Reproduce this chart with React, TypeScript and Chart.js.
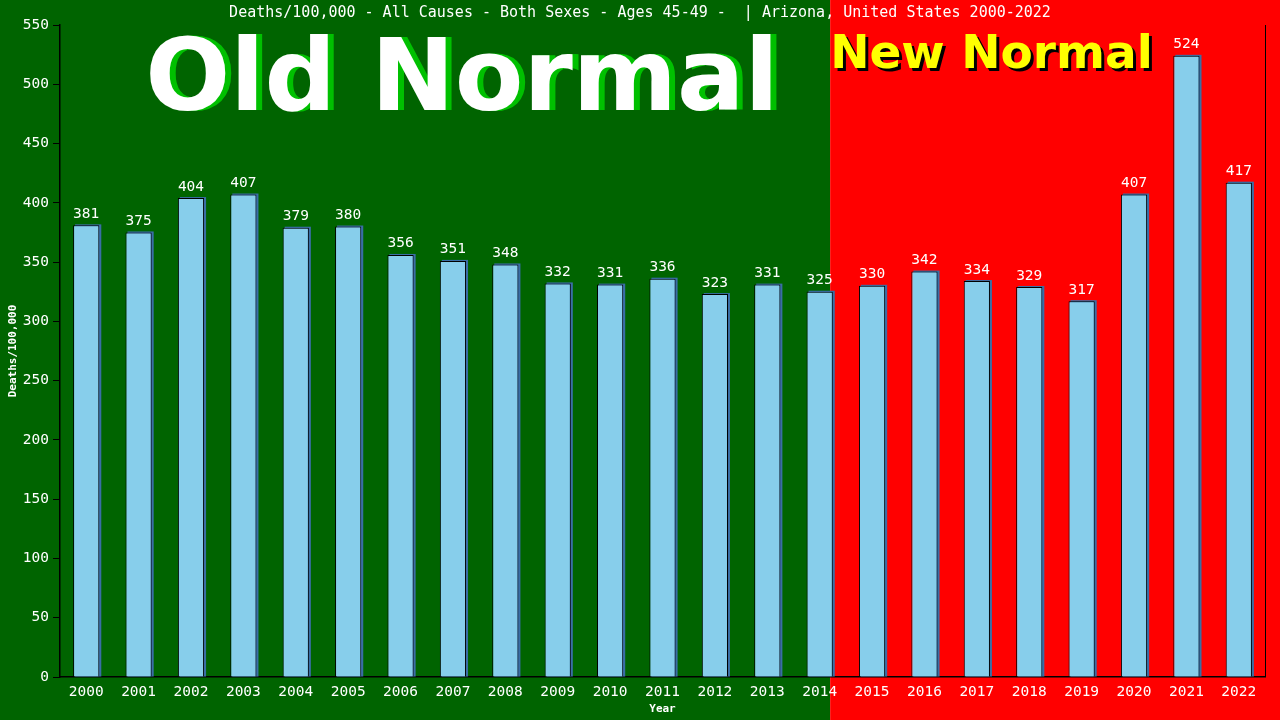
import React, { useEffect, useRef } from "react";
import { Chart, registerables } from "chart.js";

Chart.register(...registerables);

const years = ["2000","2001","2002","2003","2004","2005","2006","2007","2008","2009","2010","2011","2012","2013","2014","2015","2016","2017","2018","2019","2020","2021","2022"];
const deaths = [381,375,404,407,379,380,356,351,348,332,331,336,323,331,325,330,342,334,329,317,407,524,417];
const titleText = "Deaths/100,000 - All Causes - Both Sexes - Ages 45-49 -  | Arizona, United States 2000-2022";
const yTitle = "Deaths/100,000";
const xTitle = "Year";
const oldLabel = "Old Normal";
const newLabel = "New Normal";

const MONO = "'DejaVu Sans Mono', monospace";
const SANS = "'DejaVu Sans', sans-serif";

const decorPlugin = {
  id: "decor",
  beforeDraw(chart: any) {
    const { ctx, width, height, chartArea, scales } = chart;
    const xs = scales.x;
    const step = xs.getPixelForValue(1) - xs.getPixelForValue(0);
    const boundary = xs.getPixelForValue(14) + step * 0.2;
    ctx.save();
    ctx.fillStyle = "#006400";
    ctx.fillRect(0, 0, boundary, height);
    ctx.fillStyle = "#ff0000";
    ctx.fillRect(boundary, 0, width - boundary, height);

    // title
    ctx.fillStyle = "#ffffff";
    ctx.font = `15px ${MONO}`;
    ctx.textAlign = "center";
    ctx.textBaseline = "middle";
    ctx.fillText(titleText, 640, 13);

    // axis titles
    ctx.font = `bold 11px ${MONO}`;
    ctx.fillText(xTitle, (chartArea.left + chartArea.right) / 2, 709);
    ctx.save();
    ctx.translate(13, (chartArea.top + chartArea.bottom) / 2);
    ctx.rotate(-Math.PI / 2);
    ctx.fillText(yTitle, 0, 0);
    ctx.restore();

    // Old Normal
    ctx.textAlign = "center";
    ctx.textBaseline = "alphabetic";
    ctx.font = `bold 100px ${SANS}`;
    ctx.fillStyle = "#00c000";
    ctx.fillText(oldLabel, 468, 110);
    ctx.fillStyle = "#ffffff";
    ctx.fillText(oldLabel, 462, 110);

    // New Normal
    ctx.textAlign = "left";
    ctx.font = `bold 47px ${SANS}`;
    ctx.fillStyle = "#000000";
    ctx.fillText(newLabel, boundary + 3, 71);
    ctx.fillStyle = "#ffff00";
    ctx.fillText(newLabel, boundary, 68);
    ctx.restore();
  },
  beforeDatasetsDraw(chart: any) {
    const { ctx } = chart;
    const meta = chart.getDatasetMeta(0);
    ctx.save();
    ctx.fillStyle = "#3a6ea5";
    meta.data.forEach((bar: any) => {
      const w = bar.width;
      ctx.fillRect(bar.x - w / 2 + 2, bar.y - 1, w, bar.base - bar.y + 1);
    });
    ctx.restore();
  },
  afterDatasetsDraw(chart: any) {
    const { ctx, chartArea } = chart;
    const meta = chart.getDatasetMeta(0);
    ctx.save();
    ctx.fillStyle = "#ffffff";
    ctx.font = `14.5px ${MONO}`;
    ctx.textAlign = "center";
    ctx.textBaseline = "bottom";
    meta.data.forEach((bar: any, i: number) => {
      ctx.fillText(String(deaths[i]), bar.x, bar.y - 4);
    });
    // right border
    ctx.strokeStyle = "#000000";
    ctx.lineWidth = 1;
    ctx.beginPath();
    ctx.moveTo(Math.round(chartArea.right) + 0.5, chartArea.top);
    ctx.lineTo(Math.round(chartArea.right) + 0.5, chartArea.bottom);
    ctx.stroke();
    ctx.restore();
  },
};

export default function App() {
  const ref = useRef<HTMLCanvasElement>(null);
  useEffect(() => {
    const chart = new Chart(ref.current!, {
      type: "bar",
      data: {
        labels: years,
        datasets: [
          {
            data: deaths,
            backgroundColor: "#87ceeb",
            borderColor: "#000000",
            borderWidth: 1,
            barPercentage: 0.5,
            categoryPercentage: 1,
          },
        ],
      },
      options: {
        responsive: false,
        animation: false,
        devicePixelRatio: 1,
        layout: { padding: { left: 0, right: 15, top: 25, bottom: 0 } },
        plugins: { legend: { display: false }, title: { display: false }, tooltip: { enabled: false } },
        scales: {
          x: {
            offset: true,
            afterFit: (s: any) => { s.height = 43; },
            grid: { display: false, drawTicks: false },
            border: { display: true, color: "#000000", width: 1.5 },
            ticks: { color: "#ffffff", font: { family: MONO, size: 14.5 }, padding: 7, maxRotation: 0, autoSkip: false },
          },
          y: {
            min: 0,
            max: 550,
            afterFit: (s: any) => { s.width = 60; },
            grid: { drawOnChartArea: false, drawTicks: true, tickLength: 7, color: "#000000" },
            border: { display: true, color: "#000000", width: 1.5 },
            ticks: { stepSize: 50, color: "#ffffff", font: { family: MONO, size: 14.5 }, padding: 4 },
          },
        },
      },
      plugins: [decorPlugin],
    });
    return () => chart.destroy();
  }, []);
  return (
    <div style={{ position: "absolute", left: 0, top: 0, width: 1280, height: 720 }}>
      <canvas ref={ref} width={1280} height={720} style={{ width: 1280, height: 720, display: "block" }} />
    </div>
  );
}
